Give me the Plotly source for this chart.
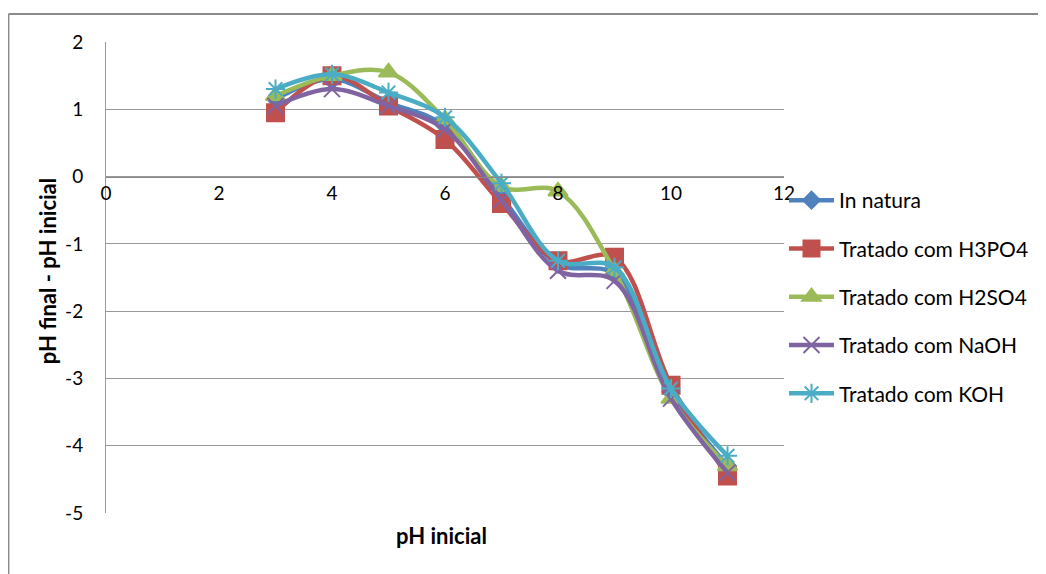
import plotly.graph_objects as go

ph_inicial = [3, 4, 5, 6, 7, 8, 9, 10, 11]
in_natura = [1.15, 1.45, 1.10, 0.75, -0.30, -1.30, -1.45, -3.20, -4.30]
h3po4 = [0.95, 1.50, 1.05, 0.55, -0.40, -1.25, -1.20, -3.10, -4.45]
h2so4 = [1.20, 1.50, 1.55, 0.85, -0.15, -0.22, -1.40, -3.30, -4.30]
naoh = [1.05, 1.30, 1.05, 0.70, -0.35, -1.40, -1.55, -3.30, -4.40]
koh = [1.30, 1.52, 1.25, 0.88, -0.10, -1.25, -1.35, -3.15, -4.15]

y_ticks = [-5, -4, -3, -2, -1, 0, 1, 2]
y_tick_labels = ["-5", "-4", "-3", "-2", "-1", "0", "1", "2"]
x_ticks = [0, 2, 4, 6, 8, 10, 12]
x_tick_labels = ["0", "2", "4", "6", "8", "10", "12"]

series = [
    ("In natura", in_natura, "#4F81BD", "diamond", 13),
    ("Tratado com H3PO4", h3po4, "#C0504D", "square", 17),
    ("Tratado com H2SO4", h2so4, "#9BBB59", "triangle-up", 17),
    ("Tratado com NaOH", naoh, "#8064A2", "x-thin", 16),
    ("Tratado com KOH", koh, "#4BACC6", "asterisk", 16),
]

FONT = "Lato, 'Open Sans', sans-serif"

fig = go.Figure()
for i, (name, ys, color, sym, size) in enumerate(series):
    fig.add_trace(go.Scatter(
        x=ph_inicial, y=ys, name=name, mode="lines+markers",
        line=dict(color=color, width=4.5, shape="spline", smoothing=1.0),
        marker=dict(symbol=sym, size=size, color=color,
                    line=dict(color=color, width=2)),
        legendgroup=f"g{i}",
    ))

# page body has an 8px margin; work in screen pixels and subtract it
OFF = 8
W, H = 1046 - OFF, 574 - OFF
L, R, T, B = 106 - OFF, 1046 - 787, 42 - OFF, 574 - 513
pw, ph = W - L - R, H - T - B

def px_x(p):
    return (p - OFF - L) / pw

def px_y(q):
    return (H - B - (q - OFF)) / ph

border = dict(color="#8a8a8a", width=2)

fig.update_layout(
    width=W, height=H,
    margin=dict(l=L, r=R, t=T, b=B),
    paper_bgcolor="white", plot_bgcolor="white",
    font=dict(family=FONT, size=16, color="#000"),
    showlegend=True,
    legend=dict(x=1.0, xanchor="left", y=px_y(180), yanchor="top",
                font=dict(size=21, family=FONT), tracegroupgap=18,
                traceorder="grouped", itemwidth=45, bgcolor="rgba(0,0,0,0)"),
    xaxis=dict(range=[0, 12], tickvals=x_ticks, ticktext=x_tick_labels,
               showgrid=False, zeroline=False,
               showline=True, linecolor="#888", linewidth=1,
               anchor="free", position=5/7, ticks="",
               tickfont=dict(size=19, family=FONT)),
    yaxis=dict(range=[-5, 2], tickvals=y_ticks, ticktext=y_tick_labels,
               showgrid=True, gridcolor="#999",
               gridwidth=1, zeroline=False, showline=True, linecolor="#999",
               linewidth=1, ticks="", ticklabelstandoff=18,
               tickfont=dict(size=19, family=FONT)),
    shapes=[
        dict(type="line", xref="paper", yref="paper",
             x0=px_x(8), x1=px_x(8), y0=px_y(574), y1=px_y(14),
             line=border, layer="below"),
        dict(type="line", xref="paper", yref="paper",
             x0=px_x(8), x1=px_x(1046), y0=px_y(14), y1=px_y(14),
             line=border, layer="below"),
    ],
    annotations=[
        dict(text="<b>pH inicial</b>", xref="paper", yref="paper",
             x=px_x(443), y=px_y(535), xanchor="center", yanchor="middle",
             showarrow=False, font=dict(size=22, family=FONT)),
        dict(text="<b>pH final - pH inicial</b>", xref="paper", yref="paper",
             x=px_x(47), y=px_y(271), xanchor="center", yanchor="middle",
             showarrow=False, textangle=-90,
             font=dict(size=22, family=FONT)),
    ],
)

fig.write_html("out.html")
